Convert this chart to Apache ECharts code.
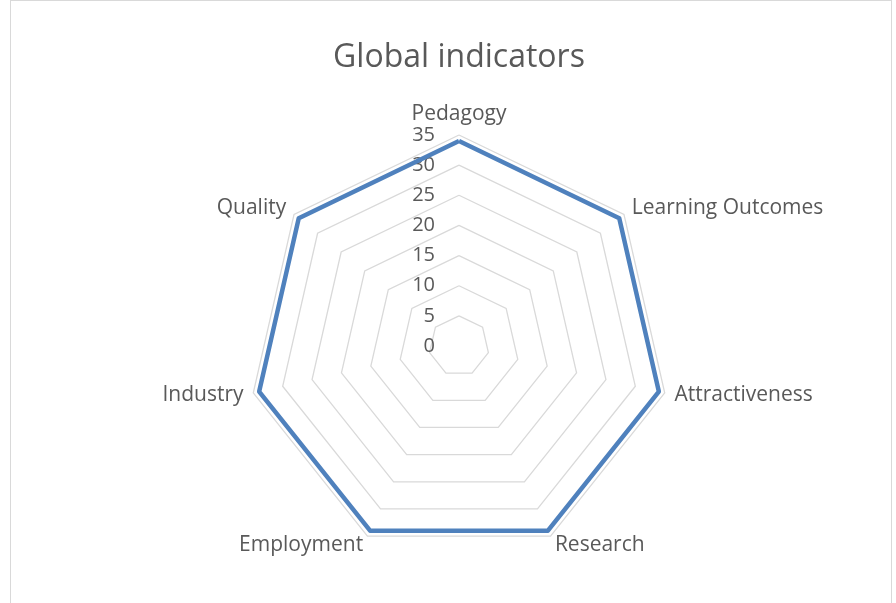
<!DOCTYPE html>
<html>
<head>
<meta charset="utf-8">
<script src="https://cdn.jsdelivr.net/npm/echarts@6/dist/echarts.min.js"></script>
<style>
  html, body { margin: 0; padding: 0; background: #fff; }
  #frame { position: absolute; left: 10px; top: 0; width: 882px; height: 640px; border: 1px solid #d9d9d9; box-sizing: border-box; }
  #chart { position: absolute; left: 0; top: 0; width: 896px; height: 603px; }
</style>
</head>
<body>
<div id="frame"></div>
<div id="chart"></div>
<script>
// indicators in reading order (clockwise from the top)
const indicatorNames = ['Pedagogy', 'Learning Outcomes', 'Attractiveness', 'Research', 'Employment', 'Industry', 'Quality']
const indicatorValues = [34, 34, 34, 34, 34, 34, 34]
const axisMax = 35
const axisSplits = 7

const textColor = '#595959'
const fontFamily = '"Open Sans", sans-serif'

// echarts lays indicators out counter-clockwise, so keep the first one and reverse the rest
const order = [0].concat(indicatorNames.map((n, i) => i).slice(1).reverse())

const indicators = order.map((i, k) => {
  const item = { name: indicatorNames[i], min: 0, max: axisMax }
  if (k === 0) {
    item.axisLabel = {
      show: true,
      margin: 24,
      color: textColor,
      fontSize: 20,
      fontFamily: fontFamily,
      padding: [6, 0, 0, 0]
    }
  }
  return item
})

const chart = echarts.init(document.getElementById('chart'))
chart.setOption({
  animation: false,
  title: {
    text: 'Global indicators',
    left: 454,
    top: 37,
    textAlign: 'center',
    textStyle: {
      color: textColor,
      fontSize: 32,
      fontWeight: 'normal',
      fontFamily: fontFamily
    }
  },
  radar: {
    center: [459, 346],
    radius: 211,
    startAngle: 90,
    splitNumber: axisSplits,
    shape: 'polygon',
    indicator: indicators,
    nameGap: 10,
    axisName: {
      color: textColor,
      fontSize: 21,
      fontFamily: fontFamily
    },
    axisLine: { show: false },
    axisTick: { show: false },
    axisLabel: { show: false },
    splitArea: { show: false },
    splitLine: {
      lineStyle: { color: '#d9d9d9', width: 1.3 }
    }
  },
  series: [
    {
      type: 'radar',
      symbol: 'none',
      lineStyle: { color: '#4f81bd', width: 4.5 },
      data: [
        { name: 'Global indicators', value: order.map((i) => indicatorValues[i]) }
      ]
    }
  ]
})
</script>
</body>
</html>
